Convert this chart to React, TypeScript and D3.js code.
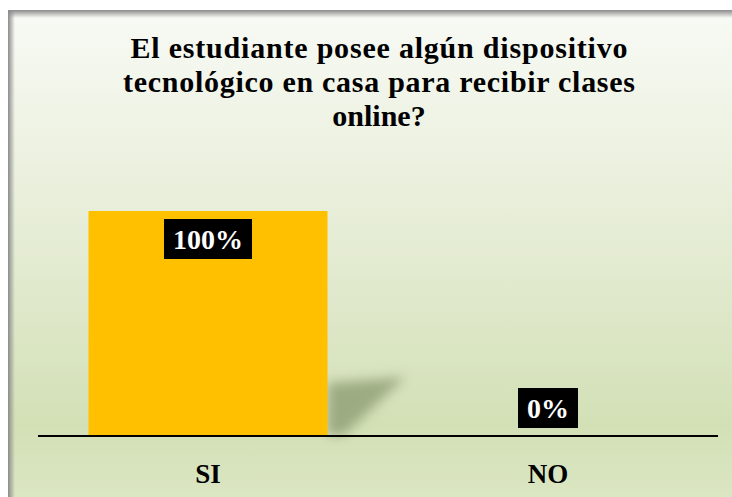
import React, { useEffect, useRef } from "react";
import * as d3 from "d3";

const categories = ["SI", "NO"];
const values = [1, 0];
const valueLabels = ["100%", "0%"];
const titleLines = [
  "El estudiante posee algún dispositivo",
  "tecnológico en casa para recibir clases",
  "online?",
];
const titleWidths = [497, 512, 0];

const W = 732;
const H = 497;
const FONT = "'Liberation Serif', 'DejaVu Serif', serif";

const App = () => {
  const svgRef = useRef<SVGSVGElement>(null);

  useEffect(() => {
    const svg = d3.select(svgRef.current);
    svg.selectAll("*").remove();

    const defs = svg.append("defs");

    // background gradient
    const bg = defs.append("linearGradient").attr("id", "bg").attr("x1", 0).attr("y1", 0).attr("x2", 0).attr("y2", 1);
    bg.append("stop").attr("offset", "0%").attr("stop-color", "#f8faf5");
    bg.append("stop").attr("offset", "45%").attr("stop-color", "#e6edd6");
    bg.append("stop").attr("offset", "85%").attr("stop-color", "#d3e0b6");
    bg.append("stop").attr("offset", "100%").attr("stop-color", "#dbe6c2");

    const topShade = defs.append("linearGradient").attr("id", "topShade").attr("x1", 0).attr("y1", 0).attr("x2", 0).attr("y2", 1);
    topShade.append("stop").attr("offset", "0%").attr("stop-color", "#8c8c8c").attr("stop-opacity", 1);
    topShade.append("stop").attr("offset", "100%").attr("stop-color", "#8c8c8c").attr("stop-opacity", 0);

    const leftShade = defs.append("linearGradient").attr("id", "leftShade").attr("x1", 0).attr("y1", 0).attr("x2", 1).attr("y2", 0);
    leftShade.append("stop").attr("offset", "0%").attr("stop-color", "#8c8c8c").attr("stop-opacity", 1);
    leftShade.append("stop").attr("offset", "100%").attr("stop-color", "#8c8c8c").attr("stop-opacity", 0);

    defs.append("filter").attr("id", "blur").attr("x", "-50%").attr("y", "-50%").attr("width", "200%").attr("height", "200%")
      .append("feGaussianBlur").attr("stdDeviation", 6);

    svg.append("rect").attr("width", W).attr("height", H).attr("fill", "#ffffff");
    svg.append("rect").attr("x", 8).attr("y", 10).attr("width", W - 8).attr("height", H - 10).attr("fill", "url(#bg)");
    svg.append("rect").attr("x", 8).attr("y", 10).attr("width", W - 8).attr("height", 8).attr("fill", "url(#topShade)");
    svg.append("rect").attr("x", 8).attr("y", 10).attr("width", 7).attr("height", H - 10).attr("fill", "url(#leftShade)");

    // scales
    const x = d3.scaleBand().domain(categories).range([38, 718]).paddingInner(0.297).paddingOuter(0.1485);
    const y = d3.scaleLinear().domain([0, 1]).range([435, 211]);

    // title
    const t = svg.append("g")
      .selectAll("text")
      .data(titleLines)
      .join("text")
      .attr("x", 379)
      .attr("y", (d, i) => 58 + i * 34)
      .attr("text-anchor", "middle")
      .style("font-family", FONT)
      .style("font-weight", "bold")
      .style("font-size", "30px")
      .attr("fill", "#000")
      .text(d => d);
    t.filter((d, i) => titleWidths[i] > 0)
      .attr("textLength", (d, i) => titleWidths[i])
      .attr("lengthAdjust", "spacing");

    const data = categories.map((c, i) => ({ cat: c, value: values[i], label: valueLabels[i] }));

    // bar shadow
    svg.append("g")
      .selectAll("path")
      .data(data.filter(d => d.value > 0))
      .join("path")
      .attr("d", d => {
        const x1 = x(d.cat)! + x.bandwidth();
        const base = y(0);
        return `M${x1},${base - 52} L${x1 + 78},${base - 58} L${x1 + 16},${base} L${x1},${base} Z`;
      })
      .attr("fill", "#78875e")
      .attr("opacity", 0.6)
      .attr("filter", "url(#blur)");

    // bars
    svg.append("g")
      .selectAll("rect")
      .data(data)
      .join("rect")
      .attr("x", d => x(d.cat)!)
      .attr("y", d => y(d.value))
      .attr("width", x.bandwidth())
      .attr("height", d => y(0) - y(d.value))
      .attr("fill", "#ffc000");

    // axis line
    svg.append("line")
      .attr("x1", x.range()[0])
      .attr("x2", x.range()[1])
      .attr("y1", y(0) + 1)
      .attr("y2", y(0) + 1)
      .attr("stroke", "#000")
      .attr("stroke-width", 2);

    // data labels
    const lab = svg.append("g")
      .selectAll("g")
      .data(data)
      .join("g")
      .attr("transform", d => {
        const cx = x(d.cat)! + x.bandwidth() / 2;
        const cy = d.value > 0 ? y(d.value) + 28 : y(0) - 27;
        return `translate(${cx},${cy})`;
      });
    lab.append("text")
      .attr("text-anchor", "middle")
      .attr("dy", "0.35em")
      .style("font-family", FONT)
      .style("font-weight", "bold")
      .style("font-size", "28px")
      .attr("fill", "#fff")
      .text(d => d.label);
    lab.each(function () {
      const g = d3.select(this);
      const bb = (g.select("text").node() as SVGTextElement).getBBox();
      g.insert("rect", "text")
        .attr("x", bb.x - 9)
        .attr("y", -20)
        .attr("width", bb.width + 18)
        .attr("height", 40)
        .attr("fill", "#000");
    });

    // category labels
    svg.append("g")
      .selectAll("text")
      .data(categories)
      .join("text")
      .attr("x", d => x(d)! + x.bandwidth() / 2)
      .attr("y", 483)
      .attr("text-anchor", "middle")
      .style("font-family", FONT)
      .style("font-weight", "bold")
      .style("font-size", "27px")
      .attr("fill", "#000")
      .text(d => d);
  }, []);

  return (
    <svg
      ref={svgRef}
      width={W}
      height={H}
      style={{ position: "absolute", left: 0, top: 0, display: "block" }}
    />
  );
};

export default App;
